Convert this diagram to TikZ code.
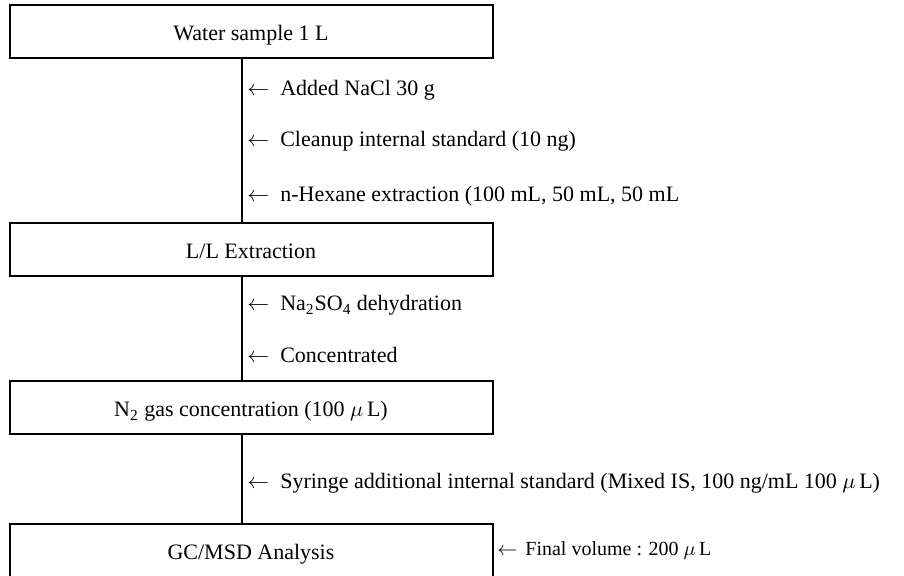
\documentclass[tikz,border=0pt]{standalone}
\usepackage{fontspec}
\setmainfont{Liberation Serif}
\usetikzlibrary{positioning}

\tikzset{
    stage/.style={draw, line width=1pt, minimum width=241.5pt, minimum height=26.5pt,
        inner sep=0pt, text height=9pt, text depth=0pt,
        font=\fontsize{11}{13}\selectfont},
    note/.style={anchor=base west, inner sep=0pt, font=\fontsize{11}{13}\selectfont},
    spineline/.style={line width=0.6pt}
}

\begin{document}
\begin{tikzpicture}[x=0.5pt, y=-0.5pt]
    \useasboundingbox (0,0) rectangle (904,576);
    % stages of the procedure
    \node[stage] (water) at (251,31.5) {Water sample 1 L};
    \node[stage] (llext) at (251,249.5) {L/L Extraction};
    \node[stage] (ntwo)  at (251,408) {N\textsubscript{2} gas concentration (100 $\mu$\,L)};
    \node[stage] (gcmsd) at (251,550) {GC/MSD Analysis};
    % spine between the stages
    \coordinate (spine) at (242,0);
    \foreach \a/\b in {water/llext, llext/ntwo, ntwo/gcmsd}
        \draw[spineline] (\a.south -| spine) -- (\b.north -| spine);
    % steps added along the spine
    \foreach \y/\txt [count=\i] in {
        96/{Added NaCl 30 g},
        147/{Cleanup internal standard (10 ng)},
        202/{n-Hexane extraction (100 mL, 50 mL, 50 mL},
        311/{Na\textsubscript{2}SO\textsubscript{4} dehydration},
        363/{Concentrated},
        488/{Syringe additional internal standard (Mixed IS, 100 ng/mL 100 $\mu$\,L)}}
        \node[note] (step\i) at (247,\y) {$\leftarrow$\hspace{0.5em}\txt};
    \node[note, font=\fontsize{10}{12}\selectfont] (final) at (497,555)
        {$\leftarrow$\hspace{0.4em}Final volume : 200 $\mu$\,L};
\end{tikzpicture}
\end{document}
